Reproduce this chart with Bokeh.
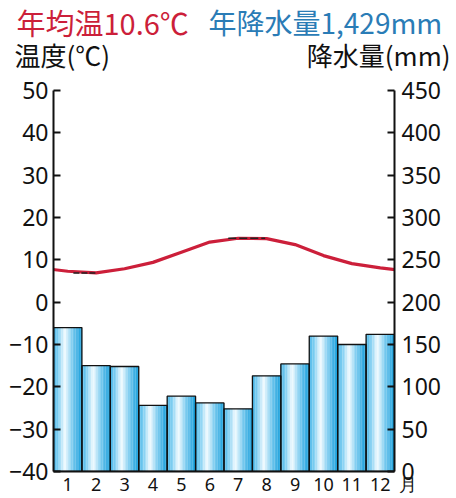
from bokeh.plotting import figure
from bokeh.layouts import column
from bokeh.models import Range1d, LinearAxis, FixedTicker, Label
from bokeh.embed import file_html
from bokeh.resources import INLINE

# ---- data ----
months = list(range(1, 13))
month_labels = [str(m) for m in months]
temperature = [7.3, 6.9, 7.9, 9.4, 11.8, 14.2, 15.1, 15.0, 13.6, 11.0, 9.1, 8.1]
precipitation = [170, 125, 124, 78, 89, 81, 74, 113, 127, 160, 150, 162]
temp_ticks = [-40, -30, -20, -10, 0, 10, 20, 30, 40, 50]
precip_ticks = [0, 50, 100, 150, 200, 250, 300, 350, 400, 450]
title_temp = "年均温10.6℃"
title_precip = "年降水量1,429mm"
temp_axis_title = "温度(℃)"
precip_axis_title = "降水量(mm)"
month_unit = "月"

# ---- styling / layout ----
CJK = "Noto Sans CJK JP"
NUM = "Noto Sans"
RED = "#cc1f3a"
BLUE = "#2a7cb6"
INK = "#111111"
W, H = 456, 498
HEAD_H = 74
BL, BR, BT, BB = 53, 62, 16, 27
MAIN_H = H - HEAD_H
X0, X1 = 0.5, 12.5

def common(fig):
    fig.outline_line_color = None
    fig.xgrid.visible = False
    fig.ygrid.visible = False
    fig.background_fill_color = "white"
    fig.border_fill_color = "white"

# ---- header (text only) ----
head = figure(width=W, height=HEAD_H, x_range=Range1d(0, W), y_range=Range1d(HEAD_H, 0),
              output_backend="svg", toolbar_location=None,
              x_axis_location=None, y_axis_location=None)
common(head)
head.min_border = 0
head.frame_align = False

def hlab(text, x, y, color, size, align="left"):
    head.add_layout(Label(x=x, y=y, text=text, text_color=color, text_font=CJK,
                          text_font_size=size, text_align=align, text_baseline="middle"))

hlab(title_temp, 16, 21, RED, "29px")
hlab(title_precip, 208, 21, BLUE, "28px")
hlab(temp_axis_title, 14, 54, INK, "26px")
hlab(precip_axis_title, 450, 54, INK, "26px", align="right")

# ---- main chart ----
p = figure(width=W, height=MAIN_H, x_range=Range1d(X0, X1), y_range=Range1d(-40, 50),
           output_backend="svg", toolbar_location=None,
           x_axis_location=None, y_axis_location=None)
common(p)
p.frame_align = False
p.min_border_left, p.min_border_right, p.min_border_top, p.min_border_bottom = BL, BR, BT, BB
p.extra_y_ranges = {"precip": Range1d(0, 450)}

# gradient bars via vertical strips
N = 18
stops = [(0.0, (66, 180, 231)), (0.18, (132, 208, 242)), (0.40, (244, 252, 255)),
         (0.65, (128, 205, 240)), (1.0, (18, 156, 218))]

def grad(t):
    for (t0, c0), (t1, c1) in zip(stops[:-1], stops[1:]):
        if t0 <= t <= t1:
            f = (t - t0) / (t1 - t0)
            return "#%02x%02x%02x" % tuple(int(round(a + (b - a) * f)) for a, b in zip(c0, c1))
    return "#%02x%02x%02x" % stops[-1][1]

xs, tops, cols = [], [], []
for m, pr in zip(months, precipitation):
    for i in range(N):
        t = (i + 0.5) / N
        xs.append(m - 0.5 + t)
        tops.append(pr)
        cols.append(grad(t))
p.vbar(x=xs, width=1.0 / N * 1.08, top=tops, bottom=0, fill_color=cols, line_color=None,
       y_range_name="precip")
p.vbar(x=months, width=1.0, top=precipitation, bottom=0, fill_color=None,
       line_color=INK, line_width=1.3, y_range_name="precip")

# temperature line (cyclic continuation at both edges)
tx = [months[0] - 1] + months + [months[-1] + 1]
ty = [temperature[-1]] + temperature + [temperature[0]]
p.line(tx, ty, line_color=RED, line_width=3.2, line_join="round")

# black marks at min and max
kmin = months[temperature.index(min(temperature))]
kmax = months[temperature.index(max(temperature))]
p.line([kmin - 0.8, kmin], [min(temperature)] * 2, line_color="#222222", line_width=1.4, line_dash="6 2")
p.line([kmax - 0.35, kmax + 0.95], [max(temperature)] * 2, line_color="#222222", line_width=1.4, line_dash="8 3")

# axes
left = LinearAxis(ticker=FixedTicker(ticks=temp_ticks))
left.major_label_overrides = {t: (("\u2212" + str(-t)) if t < 0 else str(t)) for t in temp_ticks}
right = LinearAxis(y_range_name="precip", ticker=FixedTicker(ticks=precip_ticks))
for ax, so in ((left, 5), (right, 7)):
    ax.major_tick_in = 7
    ax.major_tick_out = 0
    ax.minor_tick_line_color = None
    ax.axis_line_width = 2
    ax.axis_line_color = INK
    ax.major_tick_line_width = 2
    ax.major_tick_line_color = INK
    ax.major_label_text_font = NUM
    ax.major_label_text_font_size = "23px"
    ax.major_label_text_color = INK
    ax.major_label_standoff = so
p.add_layout(left, "left")
p.add_layout(right, "right")

# month axis; the unit "月" sits just past the last month (padded with en spaces)
unit_pos = X1 - 1e-6
bottom = LinearAxis(ticker=FixedTicker(ticks=months + [unit_pos]))
overrides = {m: s for m, s in zip(months, month_labels)}
overrides[unit_pos] = "\u2002\u2002\u2002" + month_unit
bottom.major_label_overrides = overrides
bottom.major_tick_in = 0
bottom.major_tick_out = 0
bottom.minor_tick_line_color = None
bottom.axis_line_width = 2
bottom.axis_line_color = INK
bottom.major_label_text_font = NUM
bottom.major_label_text_font_size = "18px"
bottom.major_label_text_color = INK
bottom.major_label_standoff = 0
p.add_layout(bottom, "below")

layout = column(head, p, spacing=0)
open("out.html", "w").write(file_html(layout, INLINE))
